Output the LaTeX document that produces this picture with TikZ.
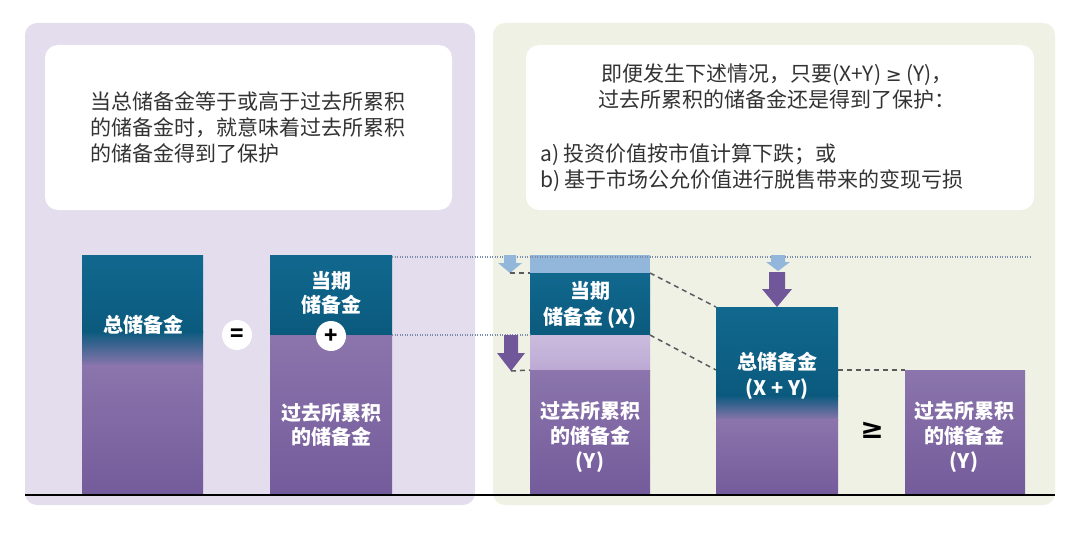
\documentclass[tikz,border=0pt]{standalone}
\usepackage{fontspec}
\newfontfamily\cjk{Noto Sans CJK SC}
\newfontfamily\symf{DejaVu Sans}
\usetikzlibrary{calc}
\definecolor{panelL}{HTML}{E3DDED}
\definecolor{panelR}{HTML}{EEF1E4}
\definecolor{tealT}{HTML}{11688E}
\definecolor{tealB}{HTML}{0B5A7E}
\definecolor{purpL}{HTML}{8B75AC}
\definecolor{purpD}{HTML}{745B9B}
\definecolor{lavL}{HTML}{CBBCDE}
\definecolor{lavD}{HTML}{BCA9D4}
\definecolor{skyblue}{HTML}{92B7DB}
\definecolor{arrowpurp}{HTML}{70579A}
\definecolor{txtgray}{HTML}{333333}
\definecolor{dashgray}{HTML}{5A5A5E}
\definecolor{dotblue}{HTML}{7D8CAA}
\definecolor{baseline}{HTML}{3A3540}
\newcommand{\blockdown}[7]{% color, x, ytop, ytip, shaft half, head half, head length
  \fill[#1] (#2-#5,#3) -- (#2+#5,#3) -- (#2+#5,#4-#7) -- (#2+#6,#4-#7) -- (#2,#4) -- (#2-#6,#4-#7) -- (#2-#5,#4-#7) -- cycle;}
\begin{document}
\begin{tikzpicture}[x=1pt,y=-1pt,
  panel/.style={rounded corners=12pt},
  whitebox/.style={fill=white, rounded corners=13pt},
  boxtxt/.style={text=txtgray, font=\cjk\fontsize{21}{26}\selectfont, inner sep=0pt},
  barlbl/.style={text=white, font=\cjk\bfseries\fontsize{20}{25}\selectfont, align=center, inner sep=0pt},
  opcirc/.style={circle, fill=white, minimum size=30pt, inner sep=0pt, text=black, font=\cjk\bfseries\fontsize{22}{22}\selectfont},
  dashconn/.style={draw=dashgray, line width=1.5pt, dash pattern=on 5pt off 4pt},
  dotconn/.style={draw=dotblue, line width=1.3pt, dash pattern=on 1pt off 1.5pt}
]
\useasboundingbox (0,0) rectangle (1080,535);
\fill[white] (0,0) rectangle (1080,535);

% panels
\fill[panelL, panel] (25,23) rectangle (475,505);
\fill[panelR, panel] (493,23) rectangle (1055,505);
\fill[whitebox] (45,45) rectangle (452,210);
\fill[whitebox] (526,45) rectangle (1034,210);

% panel texts
\node[boxtxt, anchor=west, align=left] (ltext) at (90,127)
  {当总储备金等于或高于过去所累积\\的储备金时，就意味着过去所累积\\的储备金得到了保护};
\node[boxtxt, align=center] (rtext1) at (777,86)
  {即便发生下述情况，只要(X+Y) {\symf\fontsize{19}{26}\selectfont ≥} (Y)，\\过去所累积的储备金还是得到了保护：};
\node[boxtxt, anchor=west, align=left] (rtext2) at (540,168)
  {a) 投资价值按市值计算下跌；或\\b) 基于市场公允价值进行脱售带来的变现亏损};

% ---- Bar A : total reserve
\shade[top color=tealT, bottom color=tealB] (82,255) rectangle (203,332);
\shade[top color=tealB, bottom color=purpL] (82,331.5) rectangle (203,366);
\shade[top color=purpL, bottom color=purpD] (82,365.5) rectangle (203,495);
\coordinate (barA) at (142.5,375);

% ---- Bar B : current + past
\shade[top color=tealT, bottom color=tealB] (270,255) rectangle (392,335);
\shade[top color=purpL, bottom color=purpD] (270,335) rectangle (392,495);
\coordinate (bBtop) at (392,257);
\coordinate (bBmid) at (392,335);

% ---- Bar X
\fill[skyblue] (530,255) rectangle (650,273.5);
\shade[top color=tealT, bottom color=tealB] (530,273) rectangle (650,335);
\shade[top color=lavL, bottom color=lavD] (530,335) rectangle (650,370.5);
\shade[top color=purpL, bottom color=purpD] (530,370) rectangle (650,495);
\coordinate (xTL) at (530,273);
\coordinate (xTR) at (650,273);
\coordinate (xML) at (530,335);
\coordinate (xMR) at (650,335);
\coordinate (xYL) at (530,370);

% ---- Bar total (X+Y)
\shade[top color=tealT, bottom color=tealB] (716,307) rectangle (838,396);
\shade[top color=tealB, bottom color=purpL] (716,395.5) rectangle (838,420);
\shade[top color=purpL, bottom color=purpD] (716,419.5) rectangle (838,495);
\coordinate (tTL) at (716,307);
\coordinate (tYL) at (716,370);
\coordinate (tYR) at (838,370);

% ---- Bar Y
\shade[top color=purpL, bottom color=purpD] (905,370) rectangle (1025,495);
\coordinate (yTL) at (905,370);

% baseline
\coordinate (baseL) at (25,495);
\coordinate (baseR) at (1055,495);
\draw[baseline, line width=2pt] (baseL) -- (baseR);

% dotted guides
\coordinate (dotEnd) at (1030,257);
\draw[dotconn] (bBtop) -- (dotEnd);
\draw[dotconn] (bBmid) -- (xML);

% arrows
\coordinate (arL1) at (510,273);
\coordinate (arL2) at (511,371);
\coordinate (arM1) at (778,271);
\blockdown{skyblue}{510}{255}{273}{6}{12}{10}
\blockdown{skyblue}{778}{255}{271}{7}{12}{9}
\blockdown{arrowpurp}{511}{335}{371}{7}{14}{18}
\blockdown{arrowpurp}{777}{272}{307}{8}{15}{18}

% dashed connectors
\draw[dashconn] (arL1) -- (xTL);
\draw[dashconn] (xTR) -- (tTL);
\draw[dashconn] (xMR) -- (tYL);
\draw[dashconn] (arL2) -- (xYL);
\draw[dashconn] (tYR) -- (yTL);

% bar labels
\node[barlbl] (lA) at (143,325) {总储备金};
\node[barlbl, font=\cjk\bfseries\fontsize{20}{24}\selectfont] (lB1) at (331,293) {当期\\储备金};
\node[barlbl, font=\cjk\bfseries\fontsize{20}{24}\selectfont] (lB2) at (331,425) {过去所累积\\的储备金};
\node[barlbl, font=\cjk\bfseries\fontsize{20}{26}\selectfont] (lX1) at (590,305) {当期\\储备金 (X)};
\node[barlbl] (lX2) at (590,437) {过去所累积\\的储备金\\(Y)};
\node[barlbl, font=\cjk\bfseries\fontsize{20}{26}\selectfont] (lT) at (777,376) {总储备金\\(X + Y)};
\node[barlbl] (lY) at (964,437) {过去所累积\\的储备金\\(Y)};

% operators
\node[opcirc] (eq) at (237,335) {=};
\node[opcirc] (plus) at (331,336) {+};
\node[text=black, font=\symf\bfseries\fontsize{28}{28}\selectfont, inner sep=0pt] (geq) at (872,430) {≥};
\end{tikzpicture}
\end{document}
